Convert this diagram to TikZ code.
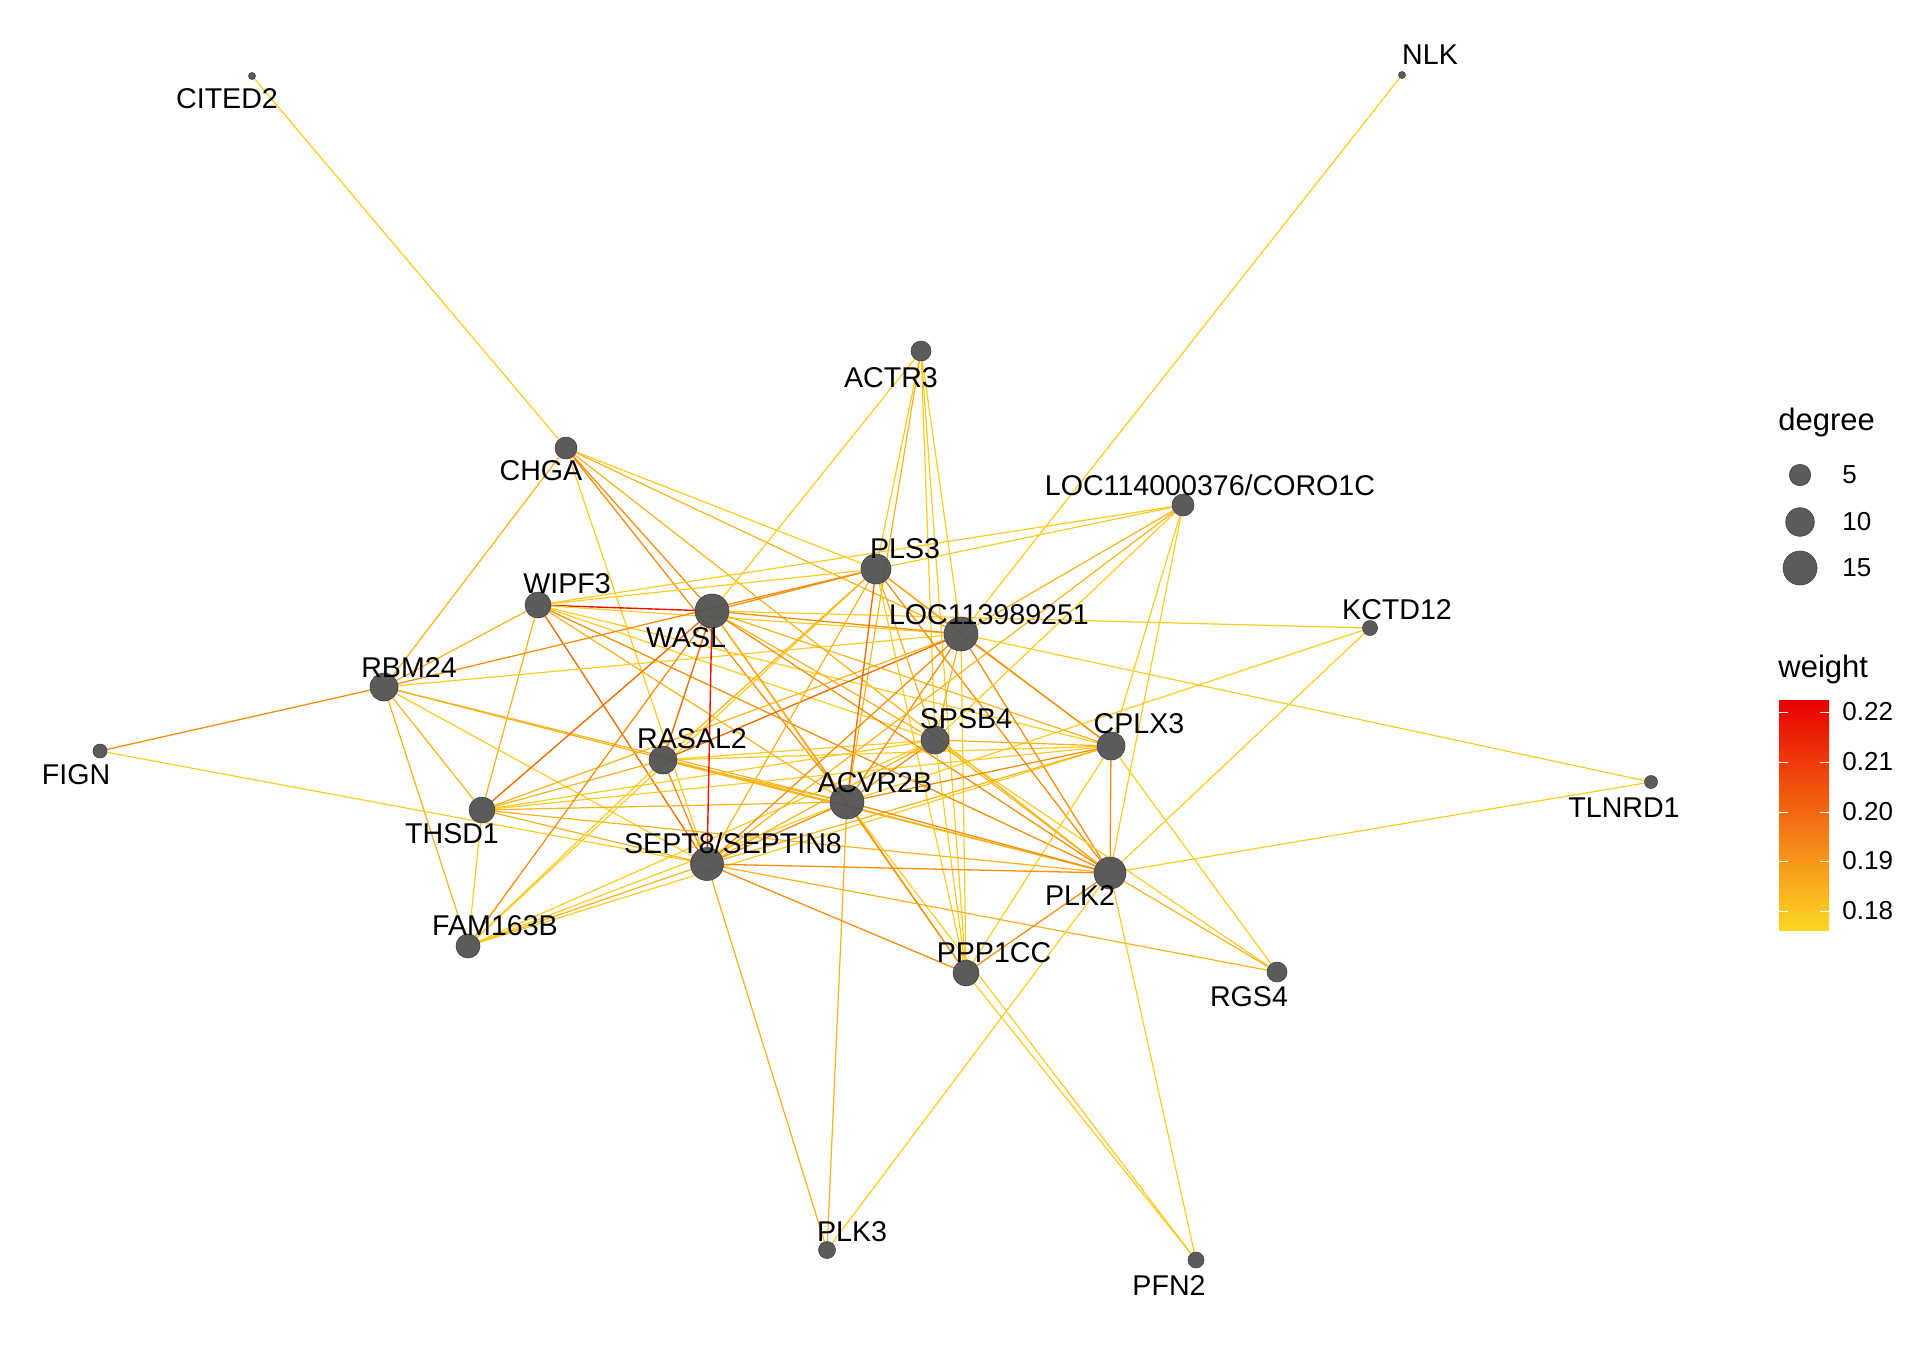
\documentclass[tikz,border=0pt]{standalone}
\usepackage{fontspec}
\setmainfont{Liberation Sans}
\usetikzlibrary{backgrounds}
\definecolor{w18}{RGB}{253,203,31}
\definecolor{w19}{RGB}{251,178,22}
\definecolor{w20}{RGB}{247,142,12}
\definecolor{w21}{RGB}{241,110,5}
\definecolor{w22}{RGB}{231,22,0}
\definecolor{cbtop}{RGB}{232,0,0}
\definecolor{cbmid}{RGB}{245,135,10}
\definecolor{cbbot}{RGB}{253,215,35}
\definecolor{vfill}{RGB}{77,77,77}

\begin{document}
\begin{tikzpicture}[x=0.5pt,y=-0.5pt,
  every node/.style={inner sep=0pt},
  v/.style={circle,fill=vfill,draw=black!75,line width=0.3pt,fill opacity=0.92,minimum size=#1pt},
  lab/.style={anchor=base,font=\fontsize{14.3}{16}\selectfont},
  legtitle/.style={anchor=base west,font=\fontsize{15.5}{18}\selectfont},
  legtxt/.style={anchor=west,font=\fontsize{13}{15}\selectfont},
  e18/.style={w18,line width=0.6pt},
  e19/.style={w19,line width=0.6pt},
  e20/.style={w20,line width=0.65pt},
  e21/.style={w21,line width=0.7pt},
  e22/.style={w22,line width=0.7pt}]
\useasboundingbox (0,0) rectangle (1920,1344);
\node [v=3.5] (CITED2) at (252,76) {};
\node [v=3.5] (NLK) at (1402,75) {};
\node [v=10] (ACTR3) at (921,351) {};
\node [v=11] (CHGA) at (566,448) {};
\node [v=11] (CORO1C) at (1183,505) {};
\node [v=15] (PLS3) at (876,569) {};
\node [v=13] (WIPF3) at (538,605) {};
\node [v=17] (WASL) at (712,611) {};
\node [v=17] (LOC1139) at (961,634) {};
\node [v=7.5] (KCTD12) at (1370,628) {};
\node [v=14] (RBM24) at (384,687) {};
\node [v=7] (FIGN) at (100,751) {};
\node [v=14] (SPSB4) at (935,740) {};
\node [v=14] (CPLX3) at (1111,746) {};
\node [v=14] (RASAL2) at (663,760) {};
\node [v=6.5] (TLNRD1) at (1651,782) {};
\node [v=17] (ACVR2B) at (847,802) {};
\node [v=13] (THSD1) at (482,810) {};
\node [v=16.5] (SEPT8) at (707,864) {};
\node [v=16] (PLK2) at (1110,873) {};
\node [v=12] (FAM163B) at (468,946) {};
\node [v=13] (PPP1CC) at (966,973) {};
\node [v=10] (RGS4) at (1277,972) {};
\node [v=8.5] (PLK3) at (827,1250) {};
\node [v=8] (PFN2) at (1196,1260) {};
\begin{scope}[on background layer]
\draw [e18] (CITED2) -- (CHGA);
\draw [e18] (NLK) -- (LOC1139);
\draw [e18] (ACTR3) -- (WASL);
\draw [e18] (ACTR3) -- (PLS3);
\draw [e19] (ACTR3) -- (ACVR2B);
\draw [e18] (ACTR3) -- (SPSB4);
\draw [e18] (ACTR3) -- (LOC1139);
\draw [e18] (ACTR3) -- (PPP1CC);
\draw [e19] (CHGA) -- (RBM24);
\draw [e18] (CHGA) -- (SEPT8);
\draw [e18] (CHGA) -- (PLS3);
\draw [e19] (CHGA) -- (LOC1139);
\draw [e20] (CHGA) -- (WASL);
\draw [e20] (CHGA) -- (ACVR2B);
\draw [e19] (CHGA) -- (PLK2);
\draw [e22] (WIPF3) -- (WASL);
\draw [e18] (WIPF3) -- (PLS3);
\draw [e18] (WIPF3) -- (CORO1C);
\draw [e19] (WIPF3) -- (RBM24);
\draw [e19] (WIPF3) -- (THSD1);
\draw [e18] (WIPF3) -- (LOC1139);
\draw [e18] (WIPF3) -- (SPSB4);
\draw [e19] (WIPF3) -- (ACVR2B);
\draw [e21] (WIPF3) -- (SEPT8);
\draw [e20] (WIPF3) -- (PLK2);
\draw [e18] (WIPF3) -- (CPLX3);
\draw [e20] (RBM24) -- (FIGN);
\draw [e20] (RBM24) -- (PLS3);
\draw [e18] (RBM24) -- (LOC1139);
\draw [e19] (RBM24) -- (THSD1);
\draw [e19] (RBM24) -- (FAM163B);
\draw [e19] (RBM24) -- (ACVR2B);
\draw [e19] (RBM24) -- (PLK2);
\draw [e18] (RBM24) -- (SEPT8);
\draw [e18] (FIGN) -- (SEPT8);
\draw [e21] (THSD1) -- (WASL);
\draw [e19] (THSD1) -- (RASAL2);
\draw [e19] (THSD1) -- (ACVR2B);
\draw [e19] (THSD1) -- (SEPT8);
\draw [e18] (THSD1) -- (FAM163B);
\draw [e19] (THSD1) -- (LOC1139);
\draw [e18] (THSD1) -- (SPSB4);
\draw [e18] (THSD1) -- (CPLX3);
\draw [e19] (THSD1) -- (PLK2);
\draw [e19] (FAM163B) -- (SEPT8);
\draw [e18] (FAM163B) -- (ACVR2B);
\draw [e18] (FAM163B) -- (SPSB4);
\draw [e18] (FAM163B) -- (CPLX3);
\draw [e20] (FAM163B) -- (WASL);
\draw [e18] (FAM163B) -- (PLS3);
\draw [e18] (FAM163B) -- (RASAL2);
\draw [e21] (RASAL2) -- (WASL);
\draw [e21] (RASAL2) -- (LOC1139);
\draw [e19] (RASAL2) -- (ACVR2B);
\draw [e20] (RASAL2) -- (SEPT8);
\draw [e18] (RASAL2) -- (SPSB4);
\draw [e18] (RASAL2) -- (CPLX3);
\draw [e19] (RASAL2) -- (PLK2);
\draw [e19] (RASAL2) -- (PLS3);
\draw [e20] (WASL) -- (PLS3);
\draw [e20] (WASL) -- (LOC1139);
\draw [e18] (WASL) -- (KCTD12);
\draw [e22] (WASL) -- (SEPT8);
\draw [e20] (WASL) -- (ACVR2B);
\draw [e19] (WASL) -- (SPSB4);
\draw [e19] (WASL) -- (CPLX3);
\draw [e20] (WASL) -- (PLK2);
\draw [e19] (WASL) -- (PPP1CC);
\draw [e18] (PLS3) -- (CORO1C);
\draw [e20] (PLS3) -- (LOC1139);
\draw [e21] (PLS3) -- (ACVR2B);
\draw [e19] (PLS3) -- (SPSB4);
\draw [e19] (PLS3) -- (CPLX3);
\draw [e20] (PLS3) -- (PLK2);
\draw [e19] (PLS3) -- (SEPT8);
\draw [e18] (PLS3) -- (PPP1CC);
\draw [e19] (LOC1139) -- (CORO1C);
\draw [e18] (LOC1139) -- (TLNRD1);
\draw [e19] (LOC1139) -- (SPSB4);
\draw [e20] (LOC1139) -- (CPLX3);
\draw [e20] (LOC1139) -- (PLK2);
\draw [e20] (LOC1139) -- (ACVR2B);
\draw [e20] (LOC1139) -- (SEPT8);
\draw [e18] (LOC1139) -- (PPP1CC);
\draw [e18] (CORO1C) -- (CPLX3);
\draw [e18] (CORO1C) -- (PLK2);
\draw [e18] (CORO1C) -- (SPSB4);
\draw [e19] (CORO1C) -- (SEPT8);
\draw [e18] (KCTD12) -- (PLK2);
\draw [e18] (KCTD12) -- (ACVR2B);
\draw [e18] (TLNRD1) -- (PLK2);
\draw [e19] (SPSB4) -- (CPLX3);
\draw [e20] (SPSB4) -- (ACVR2B);
\draw [e19] (SPSB4) -- (SEPT8);
\draw [e19] (SPSB4) -- (PLK2);
\draw [e18] (SPSB4) -- (PPP1CC);
\draw [e18] (SPSB4) -- (RGS4);
\draw [e20] (CPLX3) -- (PLK2);
\draw [e20] (CPLX3) -- (ACVR2B);
\draw [e19] (CPLX3) -- (SEPT8);
\draw [e18] (CPLX3) -- (PPP1CC);
\draw [e18] (CPLX3) -- (RGS4);
\draw [e20] (ACVR2B) -- (SEPT8);
\draw [e20] (ACVR2B) -- (PLK2);
\draw [e20] (ACVR2B) -- (PPP1CC);
\draw [e19] (ACVR2B) -- (PLK3);
\draw [e18] (ACVR2B) -- (PFN2);
\draw [e20] (SEPT8) -- (PLK2);
\draw [e20] (SEPT8) -- (PPP1CC);
\draw [e19] (SEPT8) -- (RGS4);
\draw [e19] (SEPT8) -- (PLK3);
\draw [e19] (PLK2) -- (RGS4);
\draw [e18] (PLK2) -- (PFN2);
\draw [e18] (PLK2) -- (PLK3);
\draw [e20] (PLK2) -- (PPP1CC);
\draw [e18] (PPP1CC) -- (PFN2);
\end{scope}
\node [lab] (CITED2-l) at (227,108) {CITED2};
\node [lab] (NLK-l) at (1430,64) {NLK};
\node [lab] (ACTR3-l) at (891,387) {ACTR3};
\node [lab] (CHGA-l) at (541,480) {CHGA};
\node [lab] (CORO1C-l) at (1210,495) {LOC114000376/CORO1C};
\node [lab] (PLS3-l) at (905,558) {PLS3};
\node [lab] (WIPF3-l) at (567,593) {WIPF3};
\node [lab] (WASL-l) at (686,647) {WASL};
\node [lab] (LOC1139-l) at (989,624) {LOC113989251};
\node [lab] (KCTD12-l) at (1397,619) {KCTD12};
\node [lab] (RBM24-l) at (409,677) {RBM24};
\node [lab] (FIGN-l) at (76,784) {FIGN};
\node [lab] (SPSB4-l) at (966,728) {SPSB4};
\node [lab] (CPLX3-l) at (1139,733) {CPLX3};
\node [lab] (RASAL2-l) at (692,748) {RASAL2};
\node [lab] (TLNRD1-l) at (1624,817) {TLNRD1};
\node [lab] (ACVR2B-l) at (875,792) {ACVR2B};
\node [lab] (THSD1-l) at (452,843) {THSD1};
\node [lab] (SEPT8-l) at (733,853) {SEPT8/SEPTIN8};
\node [lab] (PLK2-l) at (1080,905) {PLK2};
\node [lab] (FAM163B-l) at (495,935) {FAM163B};
\node [lab] (PPP1CC-l) at (994,962) {PPP1CC};
\node [lab] (RGS4-l) at (1249,1006) {RGS4};
\node [lab] (PLK3-l) at (852,1241) {PLK3};
\node [lab] (PFN2-l) at (1169,1295) {PFN2};
\node [legtitle] (degree) at (1778,430) {degree};
\node [v=10.7] (deg5) at (1800,475) {};
\node [v=14.3] (deg10) at (1800,522) {};
\node [v=17] (deg15) at (1800,568) {};
\node [legtxt] (deg5-l) at (1842,475) {5};
\node [legtxt] (deg10-l) at (1842,522) {10};
\node [legtxt] (deg15-l) at (1842,568) {15};
\node [legtitle] (weight) at (1778,677) {weight};
\shade [top color=cbtop, middle color=cbmid, bottom color=cbbot] (1779,700) rectangle (1829,930);
\foreach \ty/\tl [count=\i] in {712/0.22,762/0.21,812/0.20,861/0.19,911/0.18} {
  \draw [white, line width=0.5pt] (1779,\ty) -- ++(9,0);
  \draw [white, line width=0.5pt] (1829,\ty) -- ++(-9,0);
  \node [legtxt] (tick\i) at (1842,\ty) {\tl};
}
\end{tikzpicture}
\end{document}
